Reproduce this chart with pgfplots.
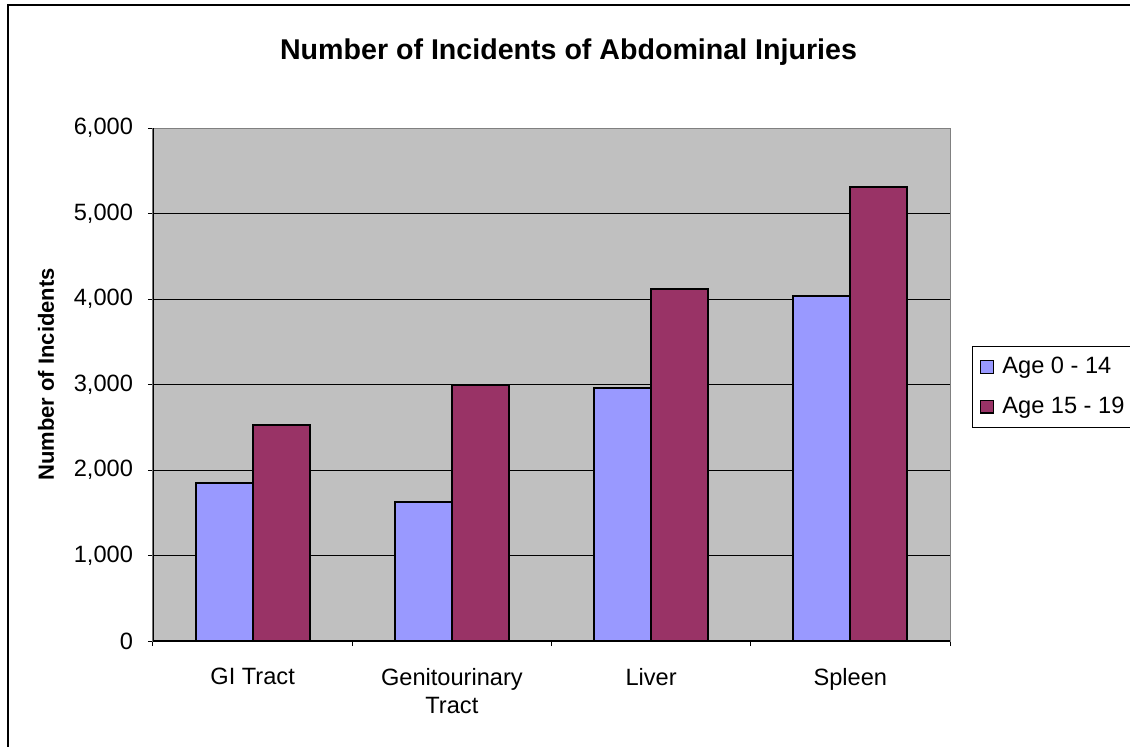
\documentclass[border=0pt]{standalone}
\usepackage{pgfplots}
\pgfplotsset{compat=1.18}
\usepackage{fontspec}
\setmainfont{Liberation Sans}
\definecolor{barblue}{HTML}{9999FF}
\definecolor{barred}{HTML}{993366}
\definecolor{plotbg}{HTML}{C0C0C0}
\definecolor{framegray}{HTML}{808080}
\begin{document}
\begin{tikzpicture}
\begin{axis}[
  at={(0pt,0pt)}, anchor=south west,
  scale only axis, width=398.5pt, height=256.5pt,
  xmin=-0.5, xmax=3.5, ymin=0, ymax=6000,
  ybar=0pt, bar width=0.286,
  axis background/.style={fill=plotbg},
  axis line style={framegray, line width=0.5pt},
  ytick={0,1000,...,6000},
  scaled y ticks=false,
  yticklabel style={xshift=-4pt, /pgf/number format/.cd, 1000 sep={,}, assume math mode=true},
  xtick={0,1,2,3},
  xticklabels={GI Tract, Genitourinary\\Tract, Liver, Spleen},
  xticklabel style={align=center, yshift=-7.5pt},
  minor xtick={-0.5,0.5,1.5,2.5,3.5},
  major x tick style={draw=none},
  tick align=outside, tick pos=left,
  major tick length=2.5pt, minor tick length=2.5pt,
  tick style={black, line width=0.5pt},
  ymajorgrids, grid style={black, line width=0.5pt},
  ticklabel style={font=\fontsize{11.8}{14}\selectfont},
  ylabel={Number of Incidents},
  ylabel shift=3pt,
  ylabel style={font=\bfseries\fontsize{11}{13}\selectfont, xshift=5pt},
  legend style={at={(1.0276,0.575)}, anchor=north west, draw=black, fill=white,
    font=\fontsize{11.8}{14}\selectfont, row sep=6pt, inner xsep=2pt, inner ysep=3.5pt,
    legend cell align=left},
  legend image code/.code={\path[draw=none,fill=none] (0pt,0pt) -- (11pt,0pt);\draw[#1, draw=black, line width=0.6pt] (2pt,-3.2pt) rectangle (8.5pt,3.2pt);},
]
\addplot[fill=barblue, draw=black, line width=1pt] coordinates {(0,1845) (1,1630) (2,2955) (3,4035)};
\addplot[fill=barred, draw=black, line width=1pt] coordinates {(0,2525) (1,3000) (2,4120) (3,5305)};
\legend{Age 0 - 14, Age 15 - 19}
\draw[black, line width=0.6pt] (rel axis cs:0,1) -- (rel axis cs:0,0) -- (rel axis cs:1,0);
\coordinate (O) at (rel axis cs:0,0);
\end{axis}
\node[font=\bfseries\fontsize{14.3}{17}\selectfont] at ([shift={(207.75pt,294.5pt)}]O) {Number of Incidents of Abdominal Injuries};
\draw[black, line width=0.6pt] ([shift={(-72.5pt,-60pt)}]O) -- ([shift={(-72.5pt,318pt)}]O) -- ([shift={(500pt,318pt)}]O);
\pgfresetboundingbox
\path[use as bounding box] ([shift={(-76.5pt,-52.5pt)}]O) rectangle ([shift={(488.5pt,320.5pt)}]O);
\end{tikzpicture}
\end{document}
